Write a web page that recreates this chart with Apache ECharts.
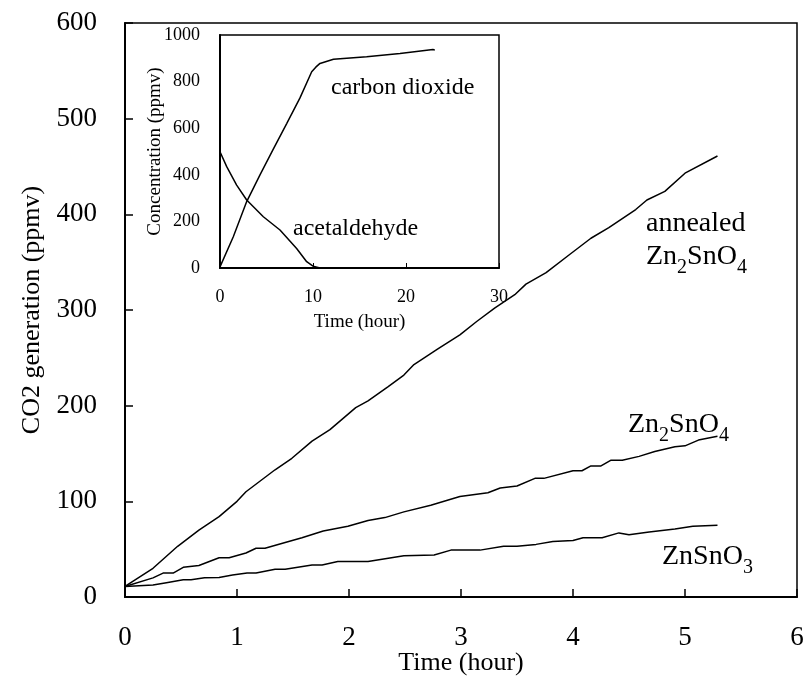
<!DOCTYPE html>
<html>
<head>
<meta charset="utf-8">
<script src="https://cdn.jsdelivr.net/npm/echarts@6/dist/echarts.min.js"></script>
<style>
  html, body { margin: 0; padding: 0; background: #fff; }
  #main { width: 807px; height: 677px; }
</style>
</head>
<body>
<div id="main"></div>
<script>
// main panel: CO2 generation vs time (hour)
const annealedT = [0, 0.25, 0.47, 0.66, 0.84, 1.0, 1.08, 1.34, 1.49, 1.67, 1.83, 2.06, 2.17, 2.35, 2.49, 2.58, 2.79, 2.99, 3.14, 3.30, 3.48, 3.58, 3.76, 3.97, 4.16, 4.32, 4.56, 4.66, 4.82, 5.0, 5.29]
const annealedV = [11, 30, 53, 70, 84, 100, 110, 133, 145, 163, 175, 198, 205, 220, 232, 243, 259, 274, 288, 302, 316, 327, 339, 358, 375, 386, 405, 415, 424, 443, 461]

const zn2T = [0, 0.25, 0.34, 0.43, 0.52, 0.66, 0.84, 0.93, 1.08, 1.17, 1.25, 1.43, 1.58, 1.77, 1.99, 2.17, 2.32, 2.49, 2.73, 2.99, 3.24, 3.35, 3.50, 3.66, 3.74, 4.0, 4.08, 4.16, 4.25, 4.34, 4.44, 4.59, 4.73, 4.91, 5.0, 5.12, 5.29]
const zn2V = [11, 20, 25, 25, 31, 33, 41, 41, 46, 51, 51, 57, 62, 69, 74, 80, 83, 89, 96, 105, 109, 114, 116, 124, 124, 132, 132, 137, 137, 143, 143, 147, 152, 157, 158, 164, 168]

const znT = [0, 0.25, 0.37, 0.52, 0.59, 0.71, 0.84, 0.96, 1.09, 1.17, 1.34, 1.43, 1.67, 1.76, 1.90, 2.17, 2.49, 2.76, 2.91, 3.17, 3.38, 3.50, 3.67, 3.82, 4.0, 4.09, 4.26, 4.41, 4.50, 4.68, 4.91, 5.07, 5.29]
const znV = [11, 12.5, 15, 18, 18, 20, 20.5, 23, 25, 25, 29, 29, 33.5, 33.5, 37, 37, 43, 44, 49, 49, 53, 53, 55, 58, 59, 62, 62, 67, 65, 68, 71, 74, 75]

// inset: concentration vs time (hour)
const co2T = [0, 1.43, 2.87, 4.3, 5.73, 7.17, 8.6, 9.86, 10.3, 10.75, 12.2, 15.77, 19.35, 22.9, 23.1]
const co2V = [5, 134, 285, 400, 510, 620, 730, 842, 862, 878, 896, 907, 921, 938, 935]

const aceT = [0, 0.72, 1.79, 2.87, 4.66, 6.45, 8.24, 9.32, 10.0, 10.75, 15, 23]
const aceV = [499, 435, 356, 292, 220, 163, 84, 27, 8, 0, 0, 0]

const mainTicks = [0, 1, 2, 3, 4, 5, 6]
const insetTicks = [0, 10, 20, 30]

const FONT = '"Liberation Serif", "Times New Roman", serif'

function pairs(t, v) {
  return t.map((x, i) => [x, v[i]])
}

const ctx = document.createElement('canvas').getContext('2d')

// text with chemical subscripts, placed by left edge and baseline
function chem(x, base, parts, size) {
  let els = []
  let cx = x
  parts.forEach(p => {
    const sub = /^\d+$/.test(p)
    const fs = sub ? Math.round(size * 0.7) : size
    const font = fs + 'px ' + FONT
    ctx.font = font
    const y = (sub ? base + 9 : base) - fs * 0.3
    els.push({
      type: 'text',
      x: cx,
      y: y,
      style: { text: p, font: font, fill: '#000', align: 'left', verticalAlign: 'middle' }
    })
    cx += ctx.measureText(p).width
  })
  return els
}

function lineSeries(name, data, xi) {
  return {
    name: name,
    type: 'line',
    xAxisIndex: xi,
    yAxisIndex: xi,
    data: data,
    showSymbol: false,
    smooth: false,
    lineStyle: { color: '#000', width: 1.5 },
    animation: false
  }
}

const chart = echarts.init(document.getElementById('main'))

const option = {
  backgroundColor: '#fff',
  animation: false,
  grid: [
    { left: 125, top: 23, width: 672, height: 574, outerBoundsMode: 'none', containLabel: false, show: true, borderColor: '#000', borderWidth: 1.5, backgroundColor: 'transparent' },
    { left: 220, top: 35, width: 279, height: 233, outerBoundsMode: 'none', containLabel: false, show: true, borderColor: '#000', borderWidth: 1.5, backgroundColor: 'transparent' }
  ],
  xAxis: [
    {
      gridIndex: 0,
      type: 'value',
      min: mainTicks[0],
      max: mainTicks[mainTicks.length - 1],
      interval: 1,
      name: 'Time (hour)',
      nameLocation: 'middle',
      nameMoveOverlap: false,
      nameGap: 53,
      nameTextStyle: { fontFamily: FONT, fontSize: 26, color: '#000' },
      axisLine: { lineStyle: { color: '#000', width: 2 } },
      axisTick: { inside: true, length: 8, lineStyle: { color: '#000', width: 1.5 } },
      axisLabel: { fontFamily: FONT, fontSize: 27, color: '#000', margin: 27 },
      splitLine: { show: false }
    },
    {
      gridIndex: 1,
      type: 'value',
      min: insetTicks[0],
      max: insetTicks[insetTicks.length - 1],
      interval: 10,
      name: 'Time (hour)',
      nameLocation: 'middle',
      nameMoveOverlap: false,
      nameGap: 45,
      nameTextStyle: { fontFamily: FONT, fontSize: 19, color: '#000' },
      axisLine: { lineStyle: { color: '#000', width: 2 } },
      axisTick: { inside: true, length: 5, lineStyle: { color: '#000', width: 1 } },
      axisLabel: { fontFamily: FONT, fontSize: 18, color: '#000', margin: 20 },
      splitLine: { show: false }
    }
  ],
  yAxis: [
    {
      gridIndex: 0,
      type: 'value',
      min: 0,
      max: 600,
      interval: 100,
      name: 'CO2 generation (ppmv)',
      nameLocation: 'middle',
      nameMoveOverlap: false,
      nameGap: 80,
      nameTextStyle: { fontFamily: FONT, fontSize: 26, color: '#000' },
      axisLine: { show: true, lineStyle: { color: '#000', width: 2 } },
      axisTick: { show: true, inside: true, length: 8, lineStyle: { color: '#000', width: 1.5 } },
      axisLabel: { fontFamily: FONT, fontSize: 27, color: '#000', margin: 28 },
      splitLine: { show: false }
    },
    {
      gridIndex: 1,
      type: 'value',
      min: 0,
      max: 1000,
      interval: 200,
      name: 'Concentration (ppmv)',
      nameLocation: 'middle',
      nameMoveOverlap: false,
      nameGap: 55,
      nameTextStyle: { fontFamily: FONT, fontSize: 19, color: '#000' },
      axisLine: { show: true, lineStyle: { color: '#000', width: 2 } },
      axisTick: { show: false },
      axisLabel: { fontFamily: FONT, fontSize: 18, color: '#000', margin: 20, formatter: v => String(v) },
      splitLine: { show: false }
    }
  ],
  series: [
    lineSeries('annealed Zn2SnO4', pairs(annealedT, annealedV), 0),
    lineSeries('Zn2SnO4', pairs(zn2T, zn2V), 0),
    lineSeries('ZnSnO3', pairs(znT, znV), 0),
    lineSeries('carbon dioxide', pairs(co2T, co2V), 1),
    lineSeries('acetaldehyde', pairs(aceT, aceV), 1)
  ],
  graphic: [
    ...chem(646, 232, ['annealed'], 28),
    ...chem(646, 265, ['Zn', '2', 'SnO', '4'], 28),
    ...chem(628, 433, ['Zn', '2', 'SnO', '4'], 28),
    ...chem(662, 565, ['ZnSnO', '3'], 28),
    ...chem(331, 95, ['carbon dioxide'], 24),
    ...chem(293, 236, ['acetaldehyde'], 24)
  ]
}

chart.setOption(option)
</script>
</body>
</html>
